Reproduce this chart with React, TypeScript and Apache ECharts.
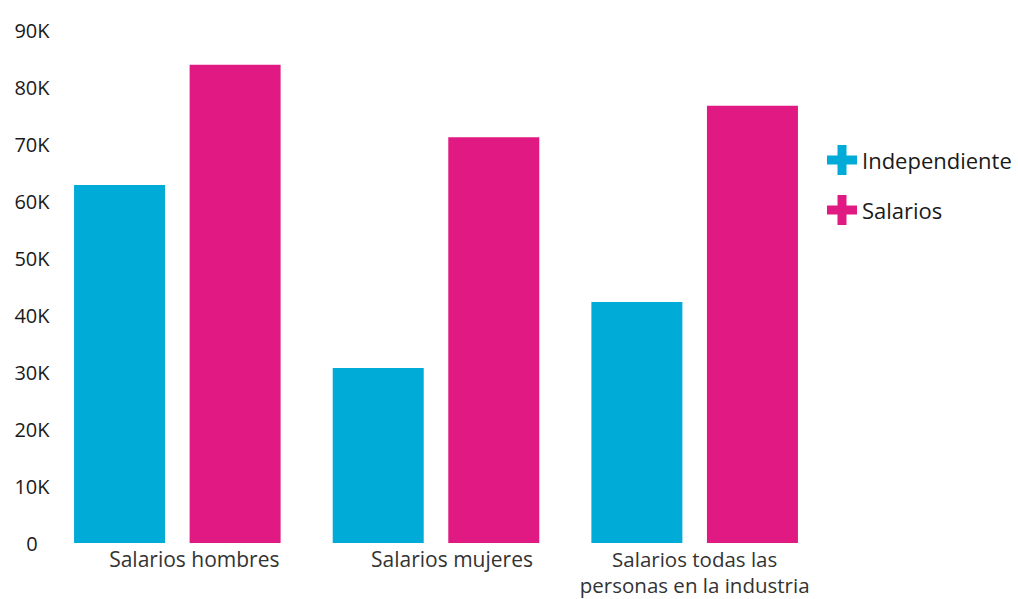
import React, { useEffect, useRef } from "react";
import * as echarts from "echarts";

const categories = ["Salarios hombres", "Salarios mujeres", "Salarios todas las\npersonas en la industria"];
const independiente = [62800, 30700, 42300];
const salarios = [83900, 71200, 76700];
const seriesNames = ["Independiente", "Salarios"];
const colors = ["#00ACD7", "#E01A82"];
const labelKeys = ["a", "b", ""];

const plusIcon = "path://M35,0H65V35H100V65H65V100H35V65H0V35H35Z";

export default function App() {
  const ref = useRef<HTMLDivElement>(null);
  useEffect(() => {
    const chart = echarts.init(ref.current!, null, { renderer: "svg" });
    chart.setOption({
      animation: false,
      textStyle: { fontFamily: "'Open Sans', 'Noto Sans', sans-serif" },
      legend: {
        orient: "vertical",
        left: 822,
        top: 140,
        itemWidth: 30,
        itemHeight: 30,
        itemGap: 20,
        icon: plusIcon,
        textStyle: { fontSize: 22, color: "#1a1a1a", fontWeight: 500 },
        data: seriesNames,
      },
      grid: { left: 48, right: 194, top: 30, bottom: 56, outerBoundsMode: "none", containLabel: false },
      xAxis: {
        type: "category",
        data: categories,
        axisLine: { show: false },
        axisTick: { show: false },
        axisLabel: {
          margin: 3,
          interval: 0,
          fontSize: 20.5,
          lineHeight: 26,
          color: "#333",
          formatter: (v: string) => {
            const i = categories.indexOf(v);
            const k = labelKeys[i];
            return k ? `{${k}|${v}}` : v;
          },
          rich: {
            a: { fontSize: 21, color: "#333", padding: [0, 0, 0, 34], lineHeight: 26 },
            b: { fontSize: 21, color: "#333", padding: [0, 0, 0, 32], lineHeight: 26 },
          },
        },
      },
      yAxis: {
        type: "value",
        min: 0,
        max: 90000,
        interval: 10000,
        splitLine: { show: false },
        axisLine: { show: false },
        axisTick: { show: false },
        axisLabel: {
          align: "center",
          margin: 16,
          fontSize: 20,
          color: "#1a1a1a",
          fontWeight: 500,
          formatter: (v: number) => (v === 0 ? "0" : `${v / 1000}K`),
        },
      },
      series: [
        {
          name: seriesNames[0],
          type: "bar",
          data: independiente,
          barWidth: 91,
          barGap: "27%",
          itemStyle: { color: colors[0] },
        },
        {
          name: seriesNames[1],
          type: "bar",
          data: salarios,
          barWidth: 91,
          barGap: "27%",
          itemStyle: { color: colors[1] },
        },
      ],
    });
    return () => chart.dispose();
  }, []);
  return (
    <div
      ref={ref}
      style={{ position: "fixed", left: 0, top: 0, width: 1018, height: 599, background: "#fff" }}
    />
  );
}
